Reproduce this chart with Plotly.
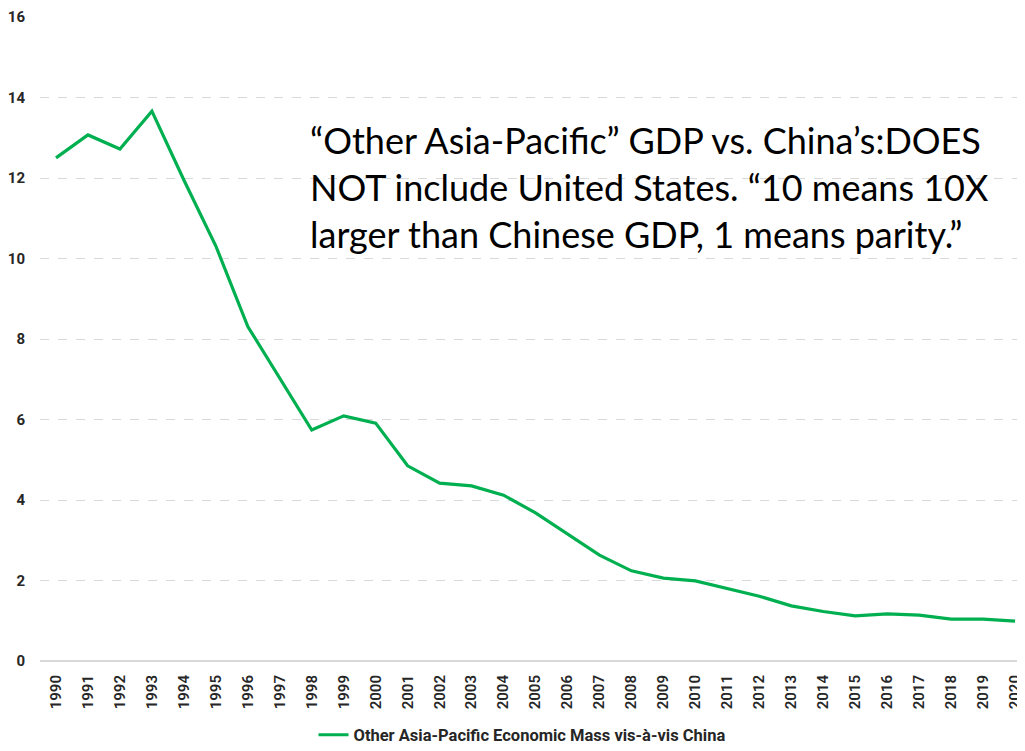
import plotly.graph_objects as go

years = list(range(1990, 2021))
ratio = [12.50, 13.07, 12.72, 13.66, 11.95, 10.31, 8.31, 7.03, 5.74, 6.09,
         5.91, 4.85, 4.42, 4.35, 4.12, 3.68, 3.16, 2.63, 2.24, 2.06,
         1.99, 1.79, 1.61, 1.37, 1.23, 1.12, 1.17, 1.14, 1.04, 1.04, 0.99]
y_ticks = [0, 2, 4, 6, 8, 10, 12, 14, 16]
series_name = "Other Asia-Pacific Economic Mass vis-à-vis China"
note_lines = ["“Other Asia-Pacific” GDP vs. China’s:DOES",
              "NOT include United States. “10 means 10X",
              "larger than Chinese GDP, 1 means parity.”"]

# page body has an 8px margin, so the figure is sized to fill the rest of the window
W, H, OFF = 1017, 743, 8

fig = go.Figure()
fig.add_trace(go.Scatter(x=years, y=ratio, mode="lines", name=series_name,
                         line=dict(color="#00b050", width=3.2)))

fig.update_layout(
    width=W, height=H,
    margin=dict(l=40 - OFF, r=0, t=17 - OFF, b=90, autoexpand=False),
    paper_bgcolor="white", plot_bgcolor="white",
    showlegend=True,
    legend=dict(orientation="h", x=(522 - OFF) / W, xanchor="center", xref="container",
                y=(751 - 735) / H, yanchor="middle", yref="container",
                font=dict(family="Roboto, sans-serif", size=16.5, color="#262626", weight="bold")),
    annotations=[dict(text="<br>".join(note_lines), xref="paper", yref="paper",
                      x=(308 - 40) / 985, y=(661 - 187) / 644, xanchor="left", yanchor="middle",
                      align="left", showarrow=False,
                      font=dict(family="Lato, Open Sans, sans-serif", size=36, color="black"))],
)
fig.update_xaxes(range=[1989.5, 2020.31], tickmode="array", tickvals=years,
                 ticktext=[str(y) for y in years], tickangle=-90, automargin=False,
                 tickfont=dict(family="Roboto, sans-serif", size=15, color="#262626", weight=600),
                 showgrid=False, zeroline=False, showline=False, ticks="", ticklabelstandoff=10)
fig.update_yaxes(range=[0, 16], tickvals=y_ticks, automargin=False,
                 tickfont=dict(family="Roboto, sans-serif", size=15, color="#262626", weight="bold"),
                 showgrid=True, gridcolor="#d9d9d9", griddash="dash", gridwidth=1,
                 zeroline=True, zerolinecolor="#d9d9d9", zerolinewidth=1.5,
                 ticks="", ticklabelstandoff=14)

fig.write_html("out.html")
